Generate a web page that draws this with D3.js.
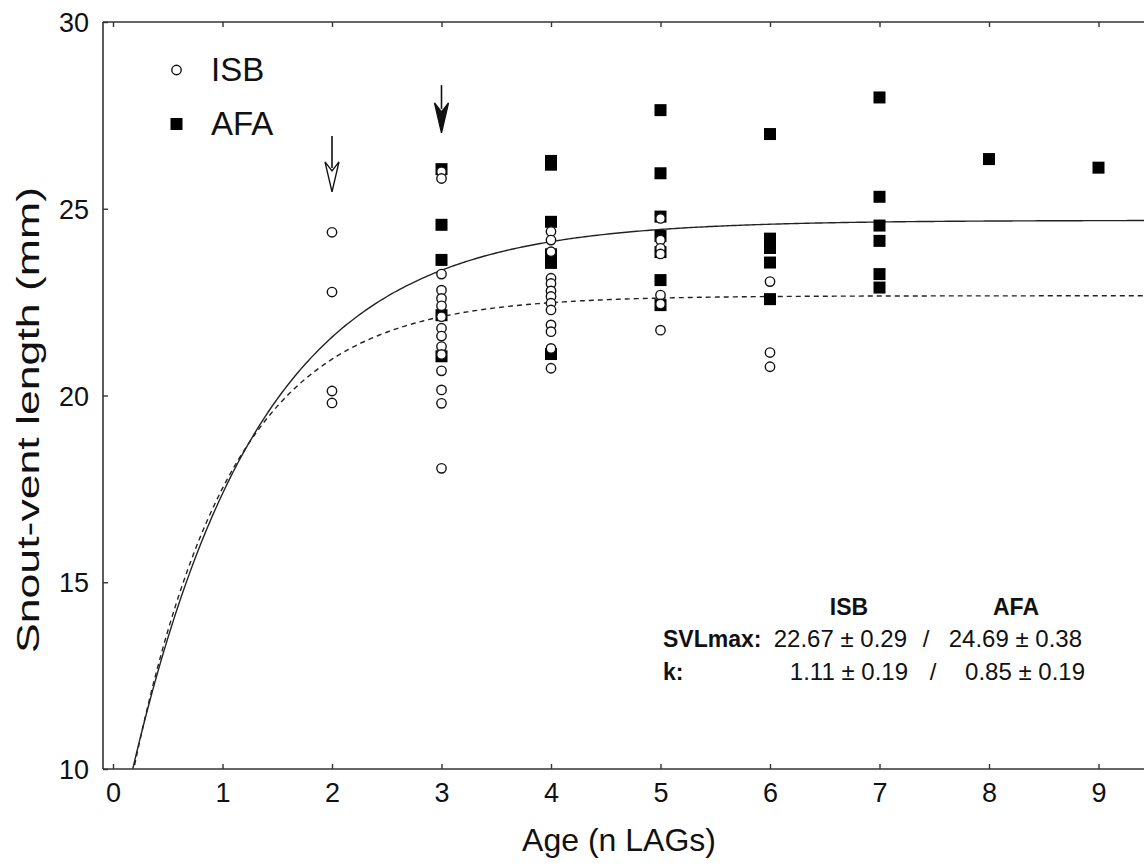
<!DOCTYPE html>
<html>
<head>
<meta charset="utf-8">
<script src="https://cdn.jsdelivr.net/npm/d3@7"></script>
<style>
  html, body { margin: 0; padding: 0; background: #fff; }
  svg { display: block; }
  text { font-family: "Liberation Sans", Arial, sans-serif; fill: #111; }
</style>
</head>
<body>
<svg id="chart" width="1144" height="866"></svg>
<script>
// ---- data ----
const xTicks = [0, 1, 2, 3, 4, 5, 6, 7, 8, 9];
const yTicks = [10, 15, 20, 25, 30];

const isbAge = [2,2,2,2,
  3,3,3,3,3,3,3,3,3,3,3,3,3,3,3,
  4,4,4,4,4,4,4,4,4,4,4,4,4,
  5,5,5,5,5,5,5,
  6,6,6];
const isbSVL = [24.37,22.77,20.12,19.80,
  25.99,25.81,23.25,22.82,22.60,22.40,22.11,21.80,21.59,21.31,21.10,20.66,20.15,19.79,18.05,
  24.39,24.16,23.85,23.14,23.00,22.80,22.65,22.47,22.29,21.89,21.71,21.26,20.73,
  24.74,24.16,23.94,23.79,22.69,22.45,21.75,
  23.05,21.15,20.77];

const afaAge = [3,3,3,3,3,
  4,4,4,4,4,4,
  5,5,5,5,5,5,5,
  6,6,6,6,6,
  7,7,7,7,7,7,
  8,9];
const afaSVL = [26.06,24.57,23.63,22.15,21.05,
  26.28,26.18,24.65,23.78,23.55,21.11,
  27.64,25.95,24.79,24.27,23.84,23.09,22.42,
  27.00,24.20,23.95,23.56,22.58,
  27.98,25.32,24.55,24.14,23.25,22.89,
  26.33,26.10];

// growth model parameters (SVL(t) = SVLmax - (SVLmax - SVL0) * exp(-k t))
const groups = ["ISB", "AFA"];
const svlMax = [22.67, 24.69];
const kRate = [1.11, 0.85];
const svl0 = [7.03, 7.57];
const svlMaxSE = ["0.29", "0.38"];
const kSE = ["0.19", "0.19"];

// arrows: [age, top SVL, tip SVL]
const arrowAge = [2, 3];
const arrowTop = [26.95, 28.31];
const arrowTip = [25.45, 27.03];
const arrowFilled = [false, true];

// ---- layout ----
const svg = d3.select("#chart");
const L = 103, R = 1144, T = 22, B = 769;
const x = d3.scaleLinear().domain([0, 9]).range([113, 1098.5]);
const y = d3.scaleLinear().domain([10, 30]).range([B, T]);

svg.append("defs").append("clipPath").attr("id", "clip")
  .append("rect").attr("x", L).attr("y", T).attr("width", R - L).attr("height", B - T);

// curves
const tMin = x.invert(L), tMax = x.invert(R);
const ts = d3.range(0, 401).map(i => tMin + (tMax - tMin) * i / 400);
const line = d3.line().x(d => x(d[0])).y(d => y(d[1]));
groups.forEach((g, i) => {
  const pts = ts.map(t => [t, svlMax[i] - (svlMax[i] - svl0[i]) * Math.exp(-kRate[i] * t)]);
  svg.append("path")
    .attr("clip-path", "url(#clip)")
    .attr("d", line(pts))
    .attr("fill", "none")
    .attr("stroke", "#222")
    .attr("stroke-width", 1.4)
    .attr("stroke-dasharray", i === 0 ? "5,4" : null);
});

// frame
const frame = svg.append("g").attr("stroke", "#333").attr("stroke-width", 1.6).attr("fill", "none");
frame.append("line").attr("x1", L).attr("x2", L).attr("y1", T).attr("y2", B);
frame.append("line").attr("x1", L).attr("x2", R).attr("y1", T).attr("y2", T);
frame.append("line").attr("x1", L).attr("x2", R).attr("y1", B).attr("y2", B);

// axes (ticks inward)
const xAxisB = d3.axisBottom(x).tickValues(xTicks).tickSize(-5).tickPadding(14).tickFormat(d3.format("d"));
const gxb = svg.append("g").attr("transform", `translate(0,${B})`).call(xAxisB);
const gxt = svg.append("g").attr("transform", `translate(0,${T})`)
  .call(d3.axisTop(x).tickValues(xTicks).tickSize(-5).tickFormat(""));
const gy = svg.append("g").attr("transform", `translate(${L},0)`)
  .call(d3.axisLeft(y).tickValues(yTicks).tickSize(-5).tickPadding(14).tickFormat(d3.format("d")));
[gxb, gxt, gy].forEach(g => {
  g.select(".domain").remove();
  g.selectAll(".tick line").attr("stroke", "#333").attr("stroke-width", 1.4);
  g.selectAll("text").attr("fill", "#111").style("font-size", "27px")
    .style("font-family", '"Liberation Sans", Arial, sans-serif');
});
gy.selectAll("text").attr("dy", "0.36em");

// axis titles
svg.append("text").attr("x", 619).attr("y", 851).attr("text-anchor", "middle")
  .style("font-size", "32px").text("Age (n LAGs)");
svg.append("text").attr("transform", "translate(39,420) rotate(-90)").attr("text-anchor", "middle")
  .attr("textLength", 466).attr("lengthAdjust", "spacingAndGlyphs")
  .style("font-size", "32px").text("Snout-vent length (mm)");

// markers: AFA squares then ISB circles
const sq = 12;
svg.append("g").selectAll("rect").data(afaAge).join("rect")
  .attr("x", (d, i) => x(d) - sq / 2)
  .attr("y", (d, i) => y(afaSVL[i]) - sq / 2)
  .attr("width", sq).attr("height", sq)
  .attr("fill", "#000");
svg.append("g").selectAll("circle").data(isbAge).join("circle")
  .attr("cx", d => x(d))
  .attr("cy", (d, i) => y(isbSVL[i]))
  .attr("r", 4.7)
  .attr("fill", "#fff").attr("stroke", "#111").attr("stroke-width", 1.4);

// arrows
arrowAge.forEach((a, i) => {
  const cx = x(a), top = y(arrowTop[i]), tip = y(arrowTip[i]);
  const hl = 30, hw = 7;
  svg.append("line").attr("x1", cx).attr("x2", cx).attr("y1", top).attr("y2", tip - hl + 6)
    .attr("stroke", "#111").attr("stroke-width", 1.6);
  svg.append("path")
    .attr("d", `M${cx},${tip} L${cx - hw},${tip - hl} L${cx},${tip - hl + 9} L${cx + hw},${tip - hl} Z`)
    .attr("fill", arrowFilled[i] ? "#111" : "#fff")
    .attr("stroke", "#111").attr("stroke-width", 1.4).attr("stroke-linejoin", "miter");
});

// legend
const lg = svg.append("g");
lg.append("circle").attr("cx", 176.5).attr("cy", 70).attr("r", 4.7)
  .attr("fill", "#fff").attr("stroke", "#111").attr("stroke-width", 1.4);
lg.append("rect").attr("x", 176.5 - sq / 2).attr("y", 124 - sq / 2).attr("width", sq).attr("height", sq).attr("fill", "#000");
lg.append("text").attr("x", 211).attr("y", 81).style("font-size", "33px").text(groups[0]);
lg.append("text").attr("x", 211).attr("y", 135).style("font-size", "33px").text(groups[1]);

// parameter annotation
const ann = svg.append("g").style("font-size", "24px");
function boldText(xp, yp, anchor, s) {
  ann.append("text").attr("x", xp).attr("y", yp).attr("text-anchor", anchor)
    .style("font-weight", "bold").style("font-size", "23px").text(s);
}
boldText(849, 615, "middle", groups[0]);
boldText(1016, 615, "middle", groups[1]);
boldText(663, 647, "start", "SVLmax:");
boldText(663, 680, "start", "k:");
ann.append("text").attr("x", 907).attr("y", 647).attr("text-anchor", "end").text(`${svlMax[0].toFixed(2)} \u00b1 ${svlMaxSE[0]}`);
ann.append("text").attr("x", 926).attr("y", 647).attr("text-anchor", "middle").text("/");
ann.append("text").attr("x", 1082).attr("y", 647).attr("text-anchor", "end").text(`${svlMax[1].toFixed(2)} \u00b1 ${svlMaxSE[1]}`);
ann.append("text").attr("x", 908).attr("y", 680).attr("text-anchor", "end").text(`${kRate[0].toFixed(2)} \u00b1 ${kSE[0]}`);
ann.append("text").attr("x", 933).attr("y", 680).attr("text-anchor", "middle").text("/");
ann.append("text").attr("x", 1085).attr("y", 680).attr("text-anchor", "end").text(`${kRate[1].toFixed(2)} \u00b1 ${kSE[1]}`);
</script>
</body>
</html>
